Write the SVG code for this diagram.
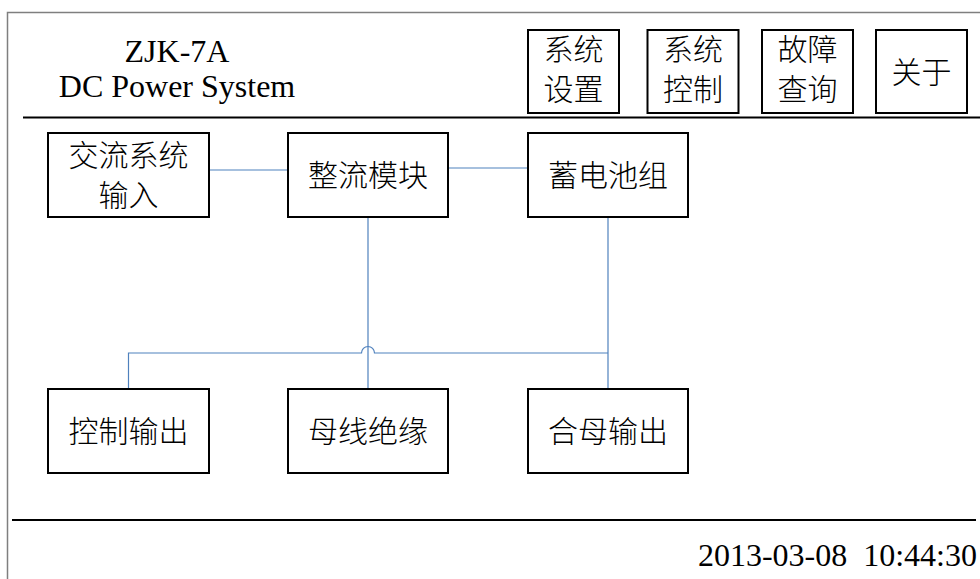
<svg xmlns="http://www.w3.org/2000/svg" width="980" height="579" viewBox="0 0 980 579">
  <style>
    .frame { fill: none; stroke: #7f7f7f; stroke-width: 1.5; }
    .rule { fill: none; stroke: #000; stroke-width: 2; }
    .box { fill: #fff; stroke: #000; stroke-width: 2; }
    .conn { fill: none; stroke: #4f81bd; stroke-width: 1.2; }
    .lat { font-family: "Liberation Serif", "Times New Roman", serif; font-size: 32px; fill: #000; }
    .cjk { font-family: "Noto Sans CJK SC", sans-serif; font-size: 30px; font-weight: 300; fill: #000; text-anchor: middle; dominant-baseline: central; }
  </style>
  <rect width="980" height="579" fill="#fff"/>
  <path class="frame" d="M7.5,590 V12.5 H990"/>
  <path class="rule" d="M23,117.5 H980"/>
  <path class="rule" d="M12,520 H976"/>

  <g id="title">
    <text class="lat" x="177" y="62" text-anchor="middle">ZJK-7A</text>
    <text class="lat" x="177" y="97" text-anchor="middle">DC Power System</text>
  </g>

  <g id="btn-settings">
    <rect class="box" x="528" y="30" width="91" height="83"/>
    <text class="cjk" x="573.5" y="46.5">系统</text>
    <text class="cjk" x="573.5" y="86.5">设置</text>
  </g>
  <g id="btn-control">
    <rect class="box" x="647.5" y="30" width="91" height="83"/>
    <text class="cjk" x="693" y="46.5">系统</text>
    <text class="cjk" x="693" y="86.5">控制</text>
  </g>
  <g id="btn-fault">
    <rect class="box" x="762" y="30" width="91" height="83"/>
    <text class="cjk" x="807.5" y="46.5">故障</text>
    <text class="cjk" x="807.5" y="86.5">查询</text>
  </g>
  <g id="btn-about">
    <rect class="box" x="876" y="30" width="91" height="83"/>
    <text class="cjk" x="921.5" y="70">关于</text>
  </g>

  <g id="connectors">
    <path class="conn" d="M209,170 H288"/>
    <path class="conn" d="M448,168 H528"/>
    <path class="conn" d="M368,217 V389"/>
    <path class="conn" d="M608,217 V389"/>
    <path class="conn" d="M128.5,389 V353 H361.5 A6.5,6.5 0 0 1 374.5,353 H608"/>
  </g>

  <g id="ac-input">
    <rect class="box" x="48" y="133" width="161" height="84"/>
    <text class="cjk" x="128.5" y="152.5">交流系统</text>
    <text class="cjk" x="128.5" y="193">输入</text>
  </g>
  <g id="rectifier">
    <rect class="box" x="288" y="133" width="160" height="84"/>
    <text class="cjk" x="368" y="173">整流模块</text>
  </g>
  <g id="battery">
    <rect class="box" x="528" y="133" width="160" height="84"/>
    <text class="cjk" x="608" y="173">蓄电池组</text>
  </g>
  <g id="control-output">
    <rect class="box" x="48" y="389" width="161" height="84"/>
    <text class="cjk" x="128.5" y="429">控制输出</text>
  </g>
  <g id="bus-insulation">
    <rect class="box" x="288" y="389" width="160" height="84"/>
    <text class="cjk" x="368" y="429">母线绝缘</text>
  </g>
  <g id="closing-bus-output">
    <rect class="box" x="528" y="389" width="160" height="84"/>
    <text class="cjk" x="608" y="429">合母输出</text>
  </g>

  <g id="datetime">
    <text class="lat" x="977" y="566" text-anchor="end" xml:space="preserve">2013-03-08  10:44:30</text>
  </g>
</svg>
